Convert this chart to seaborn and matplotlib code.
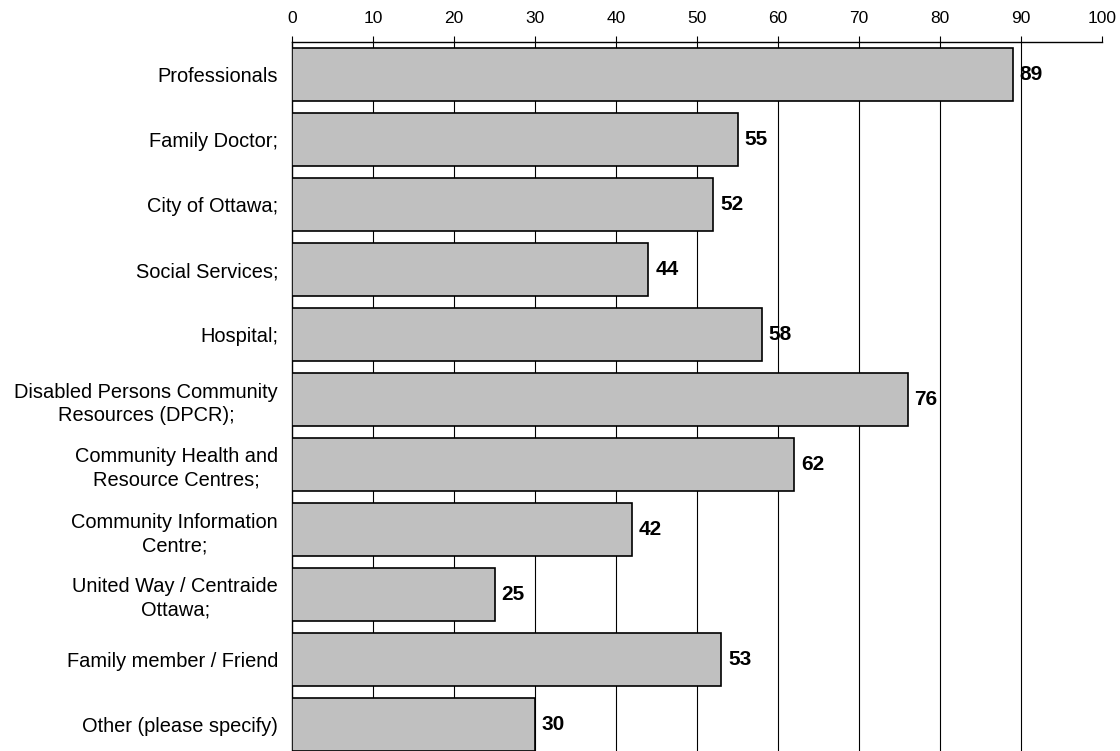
import matplotlib
matplotlib.use("Agg")
import matplotlib.pyplot as plt
import seaborn as sns
import pandas as pd
import numpy as np

categories = [
    "Professionals",
    "Family Doctor;",
    "City of Ottawa;",
    "Social Services;",
    "Hospital;",
    "Disabled Persons Community\nResources (DPCR);",
    "Community Health and\nResource Centres;",
    "Community Information\nCentre;",
    "United Way / Centraide\nOttawa;",
    "Family member / Friend",
    "Other (please specify)",
]
values = [89, 55, 52, 44, 58, 76, 62, 42, 25, 53, 30]
x_ticks = [0, 10, 20, 30, 40, 50, 60, 70, 80, 90, 100]

sns.set_style("white")
plt.rcParams["font.family"] = ["Liberation Sans", "DejaVu Sans"]
plt.rcParams["text.color"] = "black"
plt.rcParams["xtick.color"] = "black"
plt.rcParams["ytick.color"] = "black"
plt.rcParams["xtick.labelcolor"] = "black"
plt.rcParams["ytick.labelcolor"] = "black"

df = pd.DataFrame({"category": categories, "value": values})

fig = plt.figure(figsize=(11.2, 7.51), dpi=100)
ax = fig.add_axes([292 / 1120, -6 / 751, 810 / 1120, 715 / 751])

sns.barplot(data=df, x="value", y="category", orient="h", color="#C0C0C0",
            saturation=1, width=0.83, edgecolor="black", linewidth=1.2,
            ax=ax, zorder=3)

ax.set_xlim(0, 100)
ax.set_ylim(len(categories) - 0.5, -0.5)

# vertical gridlines at 10..90, behind the bars
for x in x_ticks[1:-1]:
    ax.axvline(x, color="black", linewidth=0.8, zorder=1)

ax.xaxis.tick_top()
ax.set_xticks(x_ticks)
ax.set_xticklabels([str(t) for t in x_ticks], fontsize=12.5)
ax.tick_params(axis="x", direction="out", length=4.3, width=0.8, pad=7)

ax.set_yticks(range(len(categories)))
ax.set_yticklabels(categories, fontsize=14.4, ha="right",
                   multialignment="center", linespacing=1.3)
ax.tick_params(axis="y", which="major", length=0, pad=10)
ax.set_yticks(np.arange(-0.5, len(categories), 1.0), minor=True)
ax.tick_params(axis="y", which="minor", direction="out", length=4.3, width=0.8)

ax.set_xlabel("")
ax.set_ylabel("")

for side in ["right", "bottom"]:
    ax.spines[side].set_visible(False)
for side in ["top", "left"]:
    ax.spines[side].set_visible(True)
    ax.spines[side].set_color("black")
    ax.spines[side].set_linewidth(1.0)

for i, v in enumerate(values):
    ax.text(v + 0.85, i, str(v), va="center", ha="left", fontsize=15,
            fontweight="bold", color="black", zorder=4)

fig.savefig("out.png", dpi=100)
